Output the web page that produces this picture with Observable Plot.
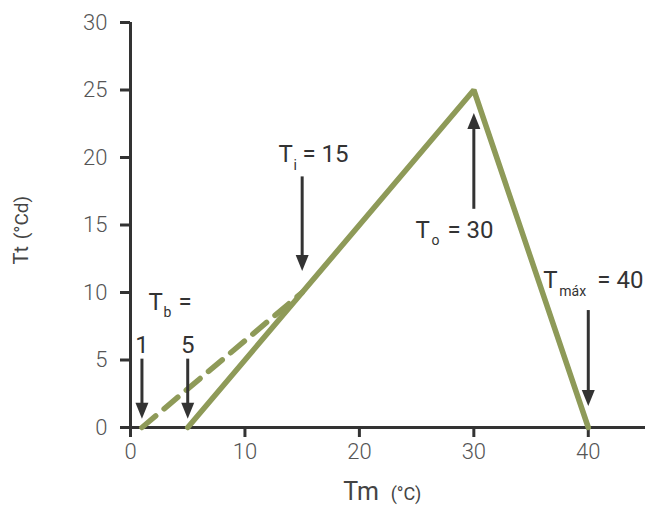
<!DOCTYPE html>
<html>
<head>
<meta charset="utf-8">
<script src="https://cdn.jsdelivr.net/npm/d3@7"></script>
<script src="https://cdn.jsdelivr.net/npm/@observablehq/plot@0.6"></script>
<style>
  body { margin: 0; background: #fff; }
  #chart svg { display: block; }
</style>
</head>
<body>
<div id="chart"></div>
<script>
// Axis ticks
const xTicks = [0, 10, 20, 30, 40];
const yTicks = [0, 5, 10, 15, 20, 25, 30];

// Thermal time response (base 5, optimum 30, maximum 40)
const responseTm = [5, 30, 40];
const responseTt = [0, 25, 0];

// Alternative response from base 1 joining at the inflection temperature
const altTm = [1, 15];
const altTt = [0, 10];

// Cardinal temperature arrows: x, tail y, tip y
const arrowTm = [1, 5, 15, 30, 40];
const arrowTail = [5.1, 5.1, 18.6, 16.2, 8.7];
const arrowTip = [0.65, 0.65, 11.6, 23.3, 1.6];

// Base temperature values written over their arrows
const baseTemps = [1, 5];
const baseLabelTt = 6.1;

// Cardinal temperature labels: "T", subscript, "= value"
const labelSub = ["b", "i", "o", "máx"];
const labelRest = ["=", "= 15", "= 30", "= 40"];
const labelTm = [1.57, 12.93, 24.9, 36.07];
const labelTt = [9.31, 20.2, 14.64, 10.87];
const labelSubDx = [15, 15, 16, 16];
const labelRestDx = [30, 24, 32, 54];

const olive = "#8e9a58";
const ink = "#333333";

const W = 648, H = 506;
const mL = 130, mR = 3, mT = 22, mB = 79;

const responseData = responseTm.map((x, i) => ({x, y: responseTt[i]}));
const altData = altTm.map((x, i) => ({x, y: altTt[i]}));

// Shaft ends just inside the arrowhead (head is ~16px long)
const pxPerY = (H - mT - mB) / 30;
const headUnits = 14 / pxPerY;
const arrows = arrowTm.map((x, i) => {
  const dir = Math.sign(arrowTip[i] - arrowTail[i]);
  return {x, tail: arrowTail[i], tip: arrowTip[i], shaftEnd: arrowTip[i] - dir * headUnits, rot: dir > 0 ? 180 : 0};
});

// Filled, slightly elongated arrowhead with its tip at the origin, pointing down
const arrowHead = {
  draw(ctx) {
    ctx.moveTo(0, 0);
    ctx.lineTo(-6.5, -16);
    ctx.lineTo(6.5, -16);
    ctx.closePath();
  }
};

// One group of text marks per cardinal temperature label
const labelMarks = labelSub.flatMap((sub, i) => {
  const at = {x: labelTm[i], y: labelTt[i]};
  return [
    Plot.text([at], {x: "x", y: "y", text: () => "T", fontSize: 24, fill: ink, textAnchor: "start"}),
    Plot.text([at], {x: "x", y: "y", text: () => sub, fontSize: 14, fill: ink, textAnchor: "start", dx: labelSubDx[i], dy: 11}),
    Plot.text([at], {x: "x", y: "y", text: () => labelRest[i], fontSize: 24, fill: ink, textAnchor: "start", dx: labelRestDx[i]})
  ];
});

const chart = Plot.plot({
  width: W,
  height: H,
  marginLeft: mL,
  marginRight: mR,
  marginTop: mT,
  marginBottom: mB,
  style: {fontFamily: "Roboto, 'Noto Sans', sans-serif", background: "#fff"},
  x: {domain: [0, 45]},
  y: {domain: [0, 30]},
  marks: [
    Plot.axisX(xTicks, {
      tickSize: 10, tickPadding: 6, stroke: ink, strokeWidth: 3,
      fill: "#555", fontSize: 22, fontWeight: 300, label: null
    }),
    Plot.axisY(yTicks, {
      tickSize: 10, tickPadding: 13, stroke: ink, strokeWidth: 3,
      fill: "#555", fontSize: 22, fontWeight: 300, label: null
    }),
    Plot.ruleY([0], {stroke: ink, strokeWidth: 3}),
    Plot.ruleX([0], {stroke: ink, strokeWidth: 3}),

    // Response curves
    Plot.line(altData, {x: "x", y: "y", stroke: olive, strokeWidth: 5.5, strokeDasharray: "18,11"}),
    Plot.line(responseData, {x: "x", y: "y", stroke: olive, strokeWidth: 5.5, strokeLinejoin: "miter"}),

    // Arrows
    Plot.link(arrows, {x1: "x", x2: "x", y1: "tail", y2: "shaftEnd", stroke: ink, strokeWidth: 3}),
    Plot.dot(arrows, {x: "x", y: "tip", symbol: arrowHead, rotate: "rot", fill: ink, stroke: "none"}),

    // Base temperature values
    Plot.text(baseTemps, {x: d => d, y: () => baseLabelTt, text: d => String(d), fontSize: 24, fill: ink, textAnchor: "middle"}),

    ...labelMarks,

    // Axis titles
    Plot.text(["Tm"], {x: 18.6, y: -4.8, fontSize: 25, fill: "#444", textAnchor: "start"}),
    Plot.text(["(°C)"], {x: 22.73, y: -4.95, fontSize: 18, fill: "#444", textAnchor: "start"}),
    Plot.text(["Tt"], {x: -9.5, y: 12.07, rotate: -90, fontSize: 20, fill: "#444", textAnchor: "start"}),
    Plot.text(["(°Cd)"], {x: -9.5, y: 13.95, rotate: -90, fontSize: 19, fill: "#444", textAnchor: "start"})
  ]
});

document.getElementById("chart").appendChild(chart);
</script>
</body>
</html>
